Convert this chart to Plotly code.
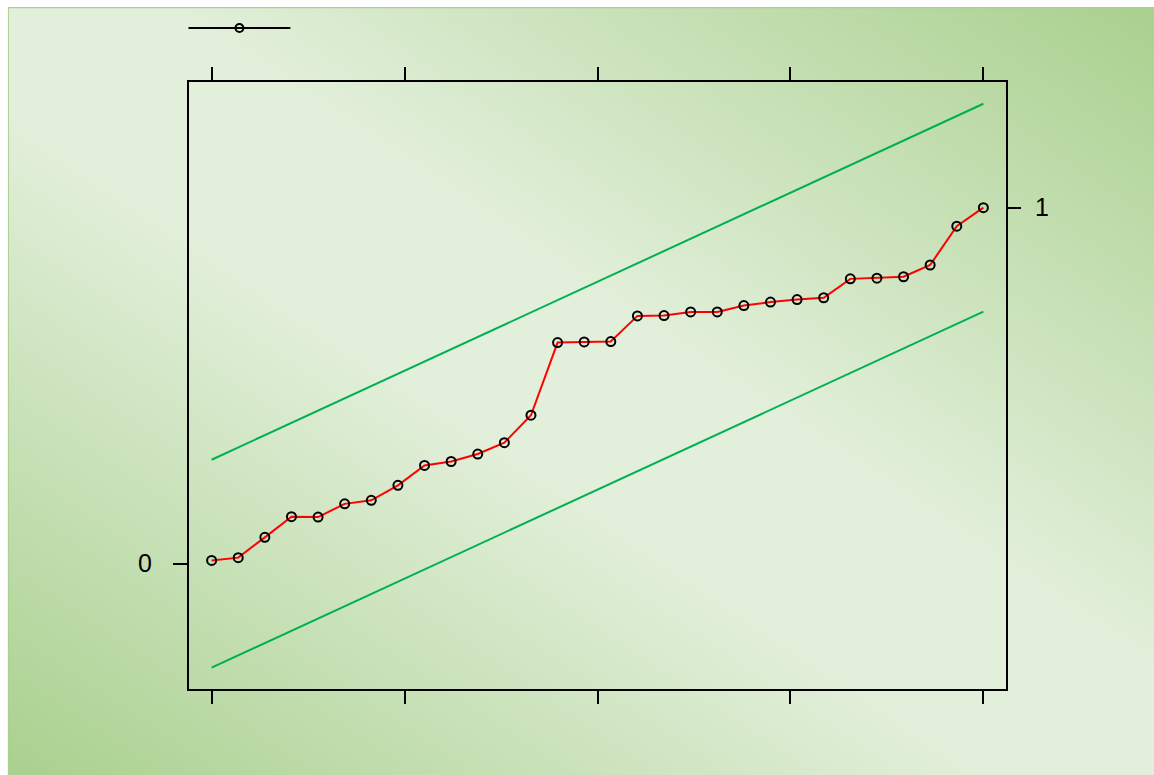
import base64
import plotly.graph_objects as go

# ---- data ----
x_rank = [0, 1, 2, 3, 4, 5, 6, 7, 8, 9, 10, 11, 12, 13, 14,
          15, 16, 17, 18, 19, 20, 21, 22, 23, 24, 25, 26, 27, 28, 29]
y_vals = [0.009, 0.017, 0.074, 0.132, 0.131, 0.168, 0.178, 0.220, 0.276, 0.287,
          0.308, 0.340, 0.417, 0.621, 0.623, 0.624, 0.696, 0.697, 0.707, 0.707,
          0.725, 0.735, 0.742, 0.747, 0.800, 0.802, 0.806, 0.839, 0.948, 1.000]
band_x = [0, 29]
upper_band = [0.292, 1.292]
lower_band = [-0.292, 0.708]
x_tickvals = [0, 7.25, 14.5, 21.75, 29]
y_left_ticks = [0]
y_right_ticks = [1]

W, H = 1154, 775
L, R, T, B = 188.5, 147.5, 82, 85.5
pw, ph = W - L - R, H - T - B

xr = [-0.85, 29.85]
yr = [-0.352, 1.353]

# gradient background (starts 7px in from top/left)
G0 = 7
gw, gh = W - G0 + 4, H - G0 + 4
svg = f'''<svg xmlns="http://www.w3.org/2000/svg" width="{gw}" height="{gh}" viewBox="0 0 {gw} {gh}" preserveAspectRatio="none">
<defs><linearGradient id="g" x1="0" y1="1" x2="1" y2="0">
<stop offset="0" stop-color="#A9D08E"/><stop offset="0.43" stop-color="#E2EFDA"/>
<stop offset="0.57" stop-color="#E2EFDA"/><stop offset="1" stop-color="#A9D08E"/>
</linearGradient></defs>
<rect x="0" y="0" width="{gw}" height="{gh}" fill="url(#g)"/>
<line x1="0" y1="0.6" x2="{gw}" y2="0.6" stroke="#A9D08E" stroke-width="1.2"/>
<line x1="0.6" y1="0" x2="0.6" y2="{gh}" stroke="#A9D08E" stroke-width="1.2"/>
</svg>'''
src = "data:image/svg+xml;base64," + base64.b64encode(svg.encode()).decode()

fig = go.Figure()
fig.add_trace(go.Scatter(x=band_x, y=upper_band, mode="lines", yaxis="y2",
                         line=dict(color="#00B050", width=2), showlegend=False, hoverinfo="skip"))
fig.add_trace(go.Scatter(x=band_x, y=lower_band, mode="lines",
                         line=dict(color="#00B050", width=2), showlegend=False, hoverinfo="skip"))
fig.add_trace(go.Scatter(x=x_rank, y=y_vals, mode="lines+markers",
                         line=dict(color="#FF0000", width=2),
                         marker=dict(symbol="circle-open", size=9, color="black",
                                     line=dict(color="black", width=2)),
                         showlegend=False))


def px_to_paper_x(px):
    return (px - L) / pw


def px_to_paper_y(py):
    return 1 - (py - T) / ph


leg_y = px_to_paper_y(28)
fig.add_shape(type="line", xref="paper", yref="paper",
              x0=px_to_paper_x(188), x1=px_to_paper_x(290), y0=leg_y, y1=leg_y,
              line=dict(color="black", width=2))
cx, cy, r = 239, 28, 4
fig.add_shape(type="circle", xref="paper", yref="paper",
              x0=px_to_paper_x(cx - r), x1=px_to_paper_x(cx + r),
              y0=px_to_paper_y(cy + r), y1=px_to_paper_y(cy - r),
              line=dict(color="black", width=2), fillcolor="rgba(0,0,0,0)")

fig.update_layout(
    width=W, height=H,
    margin=dict(l=L, r=R, t=T, b=B, pad=0),
    paper_bgcolor="white",
    plot_bgcolor="rgba(0,0,0,0)",
    font=dict(family="Liberation Sans, Arial, sans-serif", size=25, color="black"),
    showlegend=False,
    images=[dict(source=src, xref="paper", yref="paper",
                 x=(G0 - L) / pw, y=1 + (T - G0) / ph, sizex=gw / pw, sizey=gh / ph,
                 xanchor="left", yanchor="top", sizing="stretch", layer="below")],
    xaxis=dict(range=xr, tickvals=x_tickvals, showticklabels=False,
               ticks="outside", ticklen=13, tickwidth=2, tickcolor="black",
               showline=True, linecolor="black", linewidth=2, mirror="ticks",
               showgrid=False, zeroline=False),
    yaxis=dict(range=yr, tickvals=y_left_ticks, ticktext=["0"],
               ticks="outside", ticklen=14, tickwidth=2, tickcolor="black",
               showline=True, linecolor="black", linewidth=2, mirror=True,
               showgrid=False, zeroline=False, ticklabelstandoff=16),
    yaxis2=dict(range=yr, overlaying="y", side="right", anchor="x",
                tickvals=y_right_ticks, ticktext=["1"],
                ticks="outside", ticklen=14, tickwidth=2, tickcolor="black",
                showline=False, showgrid=False, zeroline=False, ticklabelstandoff=9),
)

fig.write_html("out.html", config={"displayModeBar": False},
               post_script="document.body.style.margin='0';")
